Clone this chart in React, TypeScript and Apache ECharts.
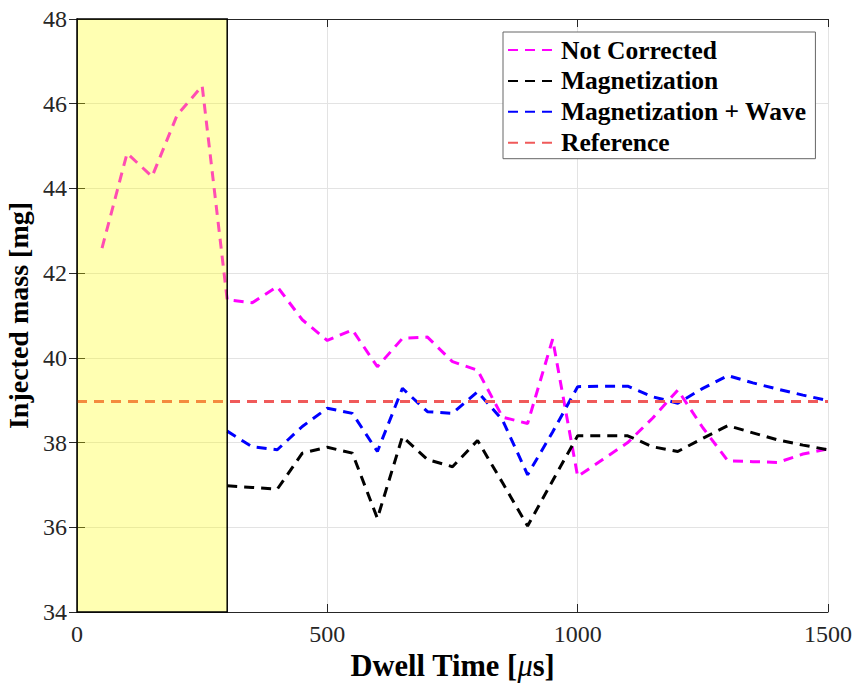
import React, { useEffect, useRef } from "react";
import * as echarts from "echarts";

const dwellNotCorrected = [50, 100, 150, 200, 250, 300, 350, 400, 450, 500, 550, 600, 650, 700, 750, 800, 850, 900, 950, 1000, 1050, 1100, 1150, 1200, 1250, 1300, 1350, 1400, 1450, 1500];
const notCorrected = [42.59, 44.83, 44.28, 45.73, 46.42, 41.37, 41.3, 41.68, 40.9, 40.41, 40.66, 39.79, 40.46, 40.49, 39.91, 39.71, 38.6, 38.45, 40.44, 37.2, 37.6, 38.0, 38.58, 39.24, 38.35, 37.57, 37.55, 37.53, 37.73, 37.85];

const dwellCorrected = [300, 350, 400, 450, 500, 550, 600, 650, 700, 750, 800, 850, 900, 950, 1000, 1050, 1100, 1150, 1200, 1250, 1300, 1350, 1400, 1450, 1500];
const magnetization = [36.98, 36.94, 36.9, 37.75, 37.89, 37.75, 36.21, 38.14, 37.6, 37.43, 38.05, 37.05, 36.03, 37.1, 38.16, 38.16, 38.16, 37.9, 37.79, 38.1, 38.4, 38.23, 38.06, 37.94, 37.83];
const magnetizationWave = [38.27, 37.9, 37.83, 38.38, 38.81, 38.69, 37.79, 39.28, 38.73, 38.69, 39.2, 38.53, 37.24, 38.25, 39.32, 39.33, 39.33, 39.08, 38.93, 39.28, 39.58, 39.41, 39.26, 39.12, 38.99];

const dwellReference = [0, 1500];
const reference = [38.97, 38.97];

const shadedRange = [0, 300];
const seriesNames = ["Not Corrected", "Magnetization", "Magnetization + Wave", "Reference"];

const FONT = "'Liberation Serif', 'Times New Roman', serif";

function pairs(xs: number[], ys: number[]) {
  return xs.map((x, i) => [x, ys[i]]);
}

export default function App() {
  const ref = useRef<HTMLDivElement>(null);
  useEffect(() => {
    if (!ref.current) return;
    const chart = echarts.init(ref.current, undefined, { renderer: "svg" });
    const dash = [10, 7];
    const mkLine = (name: string, data: number[][], color: string, z = 2) => ({
      name,
      type: "line",
      data,
      symbol: "none",
      z,
      lineStyle: { color, width: 3, type: dash },
      itemStyle: { color },
    });
    const axisColor = "#262626";
    const plain = (v: number) => String(v);
    chart.setOption({
      animation: false,
      backgroundColor: "#ffffff",
      grid: { left: 77, top: 19, right: 29, bottom: 72, containLabel: false, outerBoundsMode: "none" },
      legend: {
        data: seriesNames,
        orient: "vertical",
        left: 503,
        top: 32,
        itemWidth: 48,
        itemHeight: 14,
        itemGap: 4.9,
        padding: [5, 9, 3, 4],
        backgroundColor: "#ffffff",
        borderColor: "#666666",
        borderWidth: 1,
        itemStyle: { opacity: 0 },
        textStyle: { fontFamily: FONT, fontSize: 25.5, fontWeight: "bold", color: "#000", lineHeight: 24 },
      },
      xAxis: [
        {
          type: "value",
          min: 0,
          max: 1500,
          interval: 500,
          name: "{a|Dwell Time [}{b|\u03bc}{a|s]}",
          nameLocation: "middle",
          nameGap: 38,
          nameTextStyle: {
            rich: {
              a: { fontFamily: FONT, fontSize: 30.5, fontWeight: "bold", color: "#000" },
              b: { fontFamily: FONT, fontSize: 30.5, fontStyle: "italic", color: "#000" },
            },
          },
          axisLine: { show: true, lineStyle: { color: axisColor, width: 1 } },
          axisTick: { show: true, inside: true, length: 8, lineStyle: { color: axisColor } },
          axisLabel: { fontFamily: FONT, fontSize: 24, color: axisColor, margin: 10, formatter: plain },
          splitLine: { show: true, lineStyle: { color: "#e3e3e3", width: 1 } },
        },
        {
          type: "value",
          position: "top",
          min: 0,
          max: 1500,
          interval: 500,
          axisLine: { show: true, lineStyle: { color: axisColor, width: 1 } },
          axisTick: { show: true, inside: true, length: 8, lineStyle: { color: axisColor } },
          axisLabel: { show: false },
          splitLine: { show: false },
        },
      ],
      yAxis: [
        {
          type: "value",
          min: 34,
          max: 48,
          interval: 2,
          name: "Injected mass [mg]",
          nameLocation: "middle",
          nameGap: 41,
          nameTextStyle: { fontFamily: FONT, fontSize: 28, fontWeight: "bold", color: "#000" },
          axisLine: { show: true, lineStyle: { color: axisColor, width: 1 } },
          axisTick: { show: true, inside: true, length: 8, lineStyle: { color: axisColor } },
          axisLabel: { fontFamily: FONT, fontSize: 24, color: axisColor, margin: 10, formatter: plain },
          splitLine: { show: true, lineStyle: { color: "#e3e3e3", width: 1 } },
        },
        {
          type: "value",
          position: "right",
          min: 34,
          max: 48,
          interval: 2,
          axisLine: { show: true, lineStyle: { color: axisColor, width: 1 } },
          axisTick: { show: true, inside: true, length: 8, lineStyle: { color: axisColor } },
          axisLabel: { show: false },
          splitLine: { show: false },
        },
      ],
      series: [
        mkLine(seriesNames[0], pairs(dwellNotCorrected, notCorrected), "#ff00ff"),
        mkLine(seriesNames[1], pairs(dwellCorrected, magnetization), "#000000"),
        mkLine(seriesNames[2], pairs(dwellCorrected, magnetizationWave), "#0000ff"),
        {
          ...mkLine(seriesNames[3], pairs(dwellReference, reference), "#f05a5a"),
          markArea: {
            silent: true,
            z: 5,
            itemStyle: {
              color: "rgba(255,255,0,0.3)",
              borderColor: "#000000",
              borderWidth: 1.5,
            },
            data: [[{ xAxis: shadedRange[0], yAxis: 34 }, { xAxis: shadedRange[1], yAxis: 48 }]],
          },
        },
      ],
    });
    return () => chart.dispose();
  }, []);
  return (
    <div
      ref={ref}
      style={{ position: "fixed", left: 0, top: 0, width: 857, height: 684, background: "#fff" }}
    />
  );
}
